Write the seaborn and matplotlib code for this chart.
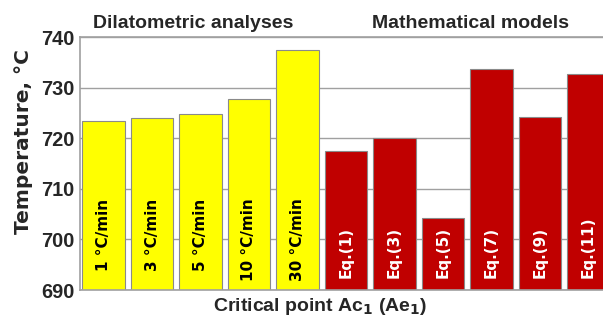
import matplotlib
matplotlib.use("Agg")
import matplotlib.pyplot as plt
import seaborn as sns
import pandas as pd

categories = ["1 °C/min", "3 °C/min", "5 °C/min", "10 °C/min", "30 °C/min",
              "Eq.(1)", "Eq.(3)", "Eq.(5)", "Eq.(7)", "Eq.(9)", "Eq.(11)"]
values = [723.4, 724.05, 724.9, 727.75, 737.4,
          717.6, 720.1, 704.3, 733.65, 724.2, 732.65]
groups = ["dil"] * 5 + ["math"] * 6
group_titles = ["Dilatometric analyses", "Mathematical models"]
yticks = [690, 700, 710, 720, 730, 740]

sns.set_theme(style="white")
plt.rcParams['font.family'] = ['Liberation Sans', 'DejaVu Sans']

df = pd.DataFrame({"cat": categories, "val": values, "grp": groups})
pal = {"dil": "#FFFF00", "math": "#C00000"}

fig = plt.figure(figsize=(6.03, 3.17), dpi=100)
ax = fig.add_axes([80/603, 1-290/317, 1-80/603, (290-37.3)/317])
ax.set_axisbelow(True)
ax.yaxis.grid(True, color="#a0a0a0", linewidth=1.0)
sns.barplot(data=df, x="cat", y="val", hue="grp", palette=pal, dodge=False,
            saturation=1, width=0.87, edgecolor="#8a8a8a", linewidth=0.8,
            legend=False, ax=ax)
ax.set_ylim(690, 740)
ax.set_xlim(-0.485, 10.3)
ax.set_yticks(yticks)
ax.set_yticklabels([str(t) for t in yticks], fontsize=14.4, fontweight="bold")
ax.set_xticks([])
ax.set_xlabel("")
ax.set_ylabel("")
ax.tick_params(axis="y", length=0, pad=4)
for s in ["left", "top", "bottom"]:
    ax.spines[s].set_color("#a0a0a0")
    ax.spines[s].set_linewidth(1.2)
ax.spines["right"].set_visible(False)

for i, (c, g) in enumerate(zip(categories, groups)):
    if g == "dil":
        ax.text(i, 708.1, c, rotation=90, ha="center", va="top",
                fontsize=11, fontweight="bold", family="DejaVu Sans",
                color="black")
    else:
        ax.text(i, 692.3, c, rotation=90, ha="center", va="bottom",
                fontsize=11, fontweight="bold", family="DejaVu Sans",
                color="white")

fig.text(24/603, 1-142/317, "Temperature, °C", rotation=90, ha="center",
         va="center", fontsize=14.5, fontweight="bold", family="DejaVu Sans")
fig.text(193/603, 1-28/317, group_titles[0], ha="center", va="baseline",
         fontsize=14, fontweight="bold")
fig.text(470/603, 1-28/317, group_titles[1], ha="center", va="baseline",
         fontsize=14, fontweight="bold")
fig.text(320/603, 1-311/317, "Critical point Ac$_\\mathbf{1}$ (Ae$_\\mathbf{1}$)",
         ha="center", va="baseline", fontsize=14, fontweight="bold")

fig.savefig("out.png", dpi=100)
